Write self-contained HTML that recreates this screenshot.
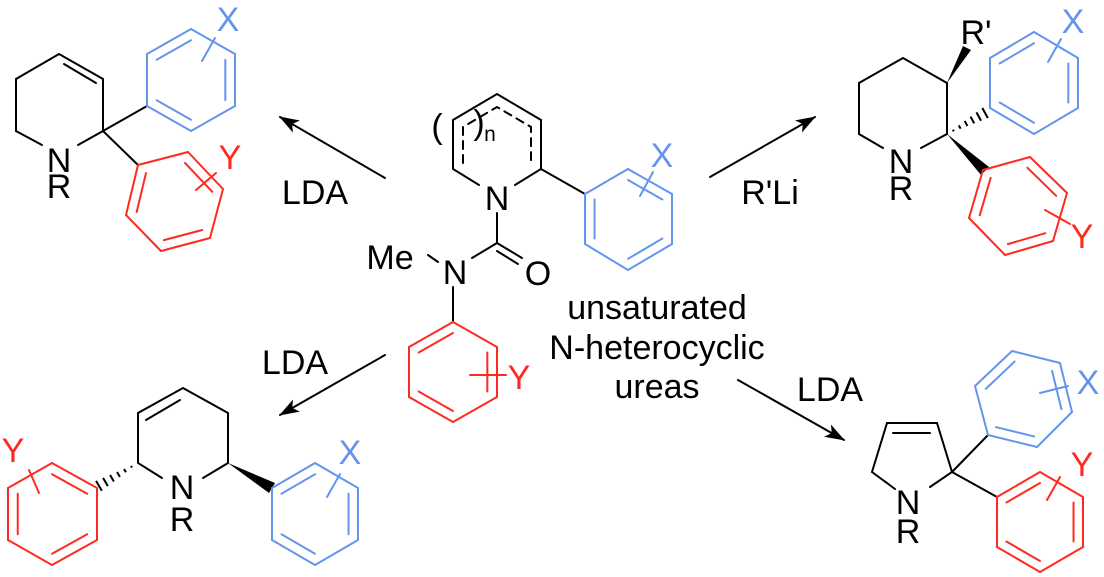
<!DOCTYPE html>
<html><head><meta charset="utf-8">
<style>
html,body{margin:0;padding:0;background:#fff;}
svg{display:block;}
text{font-family:"Liberation Sans",Arial,sans-serif;font-size:34px;}
</style></head>
<body>
<svg id="s" width="1104" height="577" viewBox="0 0 1104 577" xmlns="http://www.w3.org/2000/svg">
<defs>
<marker id="ah" viewBox="0 0 20 14" refX="19" refY="7" markerWidth="20" markerHeight="14" markerUnits="userSpaceOnUse" orient="auto">
<path d="M0,0 L20,7 L0,14 L5,7 Z" fill="#000"/>
</marker>
</defs>
<g stroke="#000" stroke-width="2" fill="none" stroke-linecap="round">
<line x1="385" y1="178" x2="280" y2="117" marker-end="url(#ah)"/>
<line x1="710" y1="177" x2="815" y2="117" marker-end="url(#ah)"/>
<line x1="385" y1="355" x2="280" y2="415" marker-end="url(#ah)"/>
<line x1="738" y1="380" x2="844" y2="440" marker-end="url(#ah)"/>

<polyline points="42,145 16,131 16,79 59,54 103,79 103,131 78,145"/>
<line x1="64" y1="64" x2="96" y2="83"/>
<line x1="103" y1="131" x2="147" y2="106"/>
<line x1="103" y1="131" x2="138" y2="165"/>

<polyline points="479,185 453,169 453,120 497,94 541,120 541,169 515,185"/>
<g stroke-dasharray="8,6">
<polyline points="463,163 463,127 497,107 531,127 531,163"/>
</g>
<line x1="541" y1="169" x2="585" y2="194"/>
<line x1="497" y1="213" x2="497" y2="243"/>
<line x1="497" y1="243" x2="522" y2="258"/>
<line x1="497" y1="251" x2="518" y2="264"/>
<line x1="497" y1="243" x2="472" y2="258"/>
<line x1="428" y1="255" x2="438" y2="262"/>
<line x1="453" y1="287" x2="453" y2="322"/>

<polyline points="883,148 859,134 859,83 903,58 947,83 947,134 921,148"/>

<polyline points="162,478 138,463 138,413 183,388 228,413 228,463 203,478"/>
<line x1="146" y1="420" x2="180" y2="400"/>

<polyline points="895,489 872,472 887,423 937,423 952,472 930,487"/>
<line x1="893" y1="433" x2="930" y2="433"/>
<line x1="952" y1="472" x2="988" y2="435"/>
<line x1="952" y1="472" x2="997" y2="497"/>
</g>

<polygon points="947,83 963,46 971,50" fill="#000"/>
<polygon points="947,134 981,175 989,167" fill="#000"/>
<polygon points="228,463 269,493 275,483" fill="#000"/>
<g id="hashes" stroke="#000" stroke-width="2"></g>

<g id="rings" fill="none" stroke-width="2" stroke-linecap="round"></g>

<g fill="#000" text-anchor="middle">
<text x="59" y="172">N</text><text x="59" y="198">R</text>
<text x="901" y="173">N</text><text x="901" y="200">R</text>
<text x="182" y="499">N</text><text x="182" y="531">R</text>
<text x="908" y="514">N</text><text x="908" y="543">R</text>
<text x="497" y="210">N</text>
<text x="455" y="284">N</text>
<text x="538" y="285">O</text>
<text x="390" y="269">Me</text>
<text x="437" y="138">(</text>
<text x="479" y="134">)</text>
<text x="490" y="141" style="font-size:21px">n</text>
<text x="976" y="44">R'</text>
<text x="315" y="204">LDA</text>
<text x="770" y="204">R'Li</text>
<text x="295" y="374">LDA</text>
<text x="830" y="401">LDA</text>
<text x="657" y="319">unsaturated</text>
<text x="657" y="359">N-heterocyclic</text>
<text x="657" y="398">ureas</text>
</g>
<g fill="#6495ED" text-anchor="middle">
<text x="228" y="31">X</text>
<text x="662" y="167">X</text>
<text x="1073" y="33">X</text>
<text x="350" y="464">X</text>
<text x="1088" y="394">X</text>
</g>
<g fill="#FF2A1F" text-anchor="middle">
<text x="230" y="169">Y</text>
<text x="519" y="389">Y</text>
<text x="1082" y="248">Y</text>
<text x="13" y="462">Y</text>
<text x="1082" y="476">Y</text>
</g>
</svg>
<script>
var NS="http://www.w3.org/2000/svg";
var rg=document.getElementById("rings");
function ln(p,a,b,c){var l=document.createElementNS(NS,"line");l.setAttribute("x1",a[0]);l.setAttribute("y1",a[1]);l.setAttribute("x2",b[0]);l.setAttribute("y2",b[1]);l.setAttribute("stroke",c);p.appendChild(l);}
function ring(v,d,c,sub){
 var cx=0,cy=0;v.forEach(function(p){cx+=p[0];cy+=p[1];});cx/=6;cy/=6;
 for(var i=0;i<6;i++){var a=v[i],b=v[(i+1)%6];ln(rg,a,b,c);}
 d.forEach(function(i){var a=v[i],b=v[(i+1)%6],f=0.22;
  ln(rg,[a[0]+(cx-a[0])*f,a[1]+(cy-a[1])*f],[b[0]+(cx-b[0])*f,b[1]+(cy-b[1])*f],c);});
 if(sub) ln(rg,sub[0],sub[1],c);
}
var B="#6495ED",R="#FF2A1F";
ring([[147,106],[147,54],[191,29],[235,54],[235,106],[191,131]],[1,3,5],B,[[202,61],[215,38]]);
ring([[138,165],[188,152],[223,189],[210,238],[161,251],[126,215]],[1,3,5],R,[[196,190],[216,173]]);
ring([[585,194],[628,169],[672,194],[672,244],[628,270],[585,244]],[1,3,5],B,[[640,196],[653,172]]);
ring([[453,322],[497,347],[497,397],[453,422],[409,397],[409,347]],[1,3,5],R,[[470,375],[506,375]]);
ring([[990,108],[990,58],[1034,32],[1078,58],[1078,108],[1034,134]],[1,3,5],B,[[1048,62],[1061,39]]);
ring([[983,170],[1030,157],[1067,193],[1053,241],[1005,255],[969,218]],[1,3,5],R,[[1045,210],[1070,224]]);
ring([[97,488],[97,540],[52,565],[8,540],[8,488],[52,463]],[1,3,5],R,[[29,470],[39,493]]);
ring([[272,488],[272,540],[315,565],[358,540],[358,488],[315,463]],[1,3,5],B,[[327,497],[340,474]]);
ring([[988,435],[975,386],[1012,351],[1060,363],[1072,412],[1037,447]],[1,3,5],B,[[1040,393],[1068,386]]);
ring([[997,497],[997,547],[1040,572],[1083,547],[1083,497],[1040,472]],[1,3,5],R,[[1047,500],[1060,477]]);
var hg=document.getElementById("hashes");
function hash(a,b,n,w){var dx=b[0]-a[0],dy=b[1]-a[1],L=Math.hypot(dx,dy),nx=-dy/L,ny=dx/L;
 for(var i=1;i<=n;i++){var t=i/(n+0.3),x=a[0]+dx*t,y=a[1]+dy*t,h=w*t;ln(hg,[x-nx*h,y-ny*h],[x+nx*h,y+ny*h],"#000");}}
hash([947,134],[987,112],6,6);
hash([138,463],[97,487],6,6);
</script>
</body></html>
